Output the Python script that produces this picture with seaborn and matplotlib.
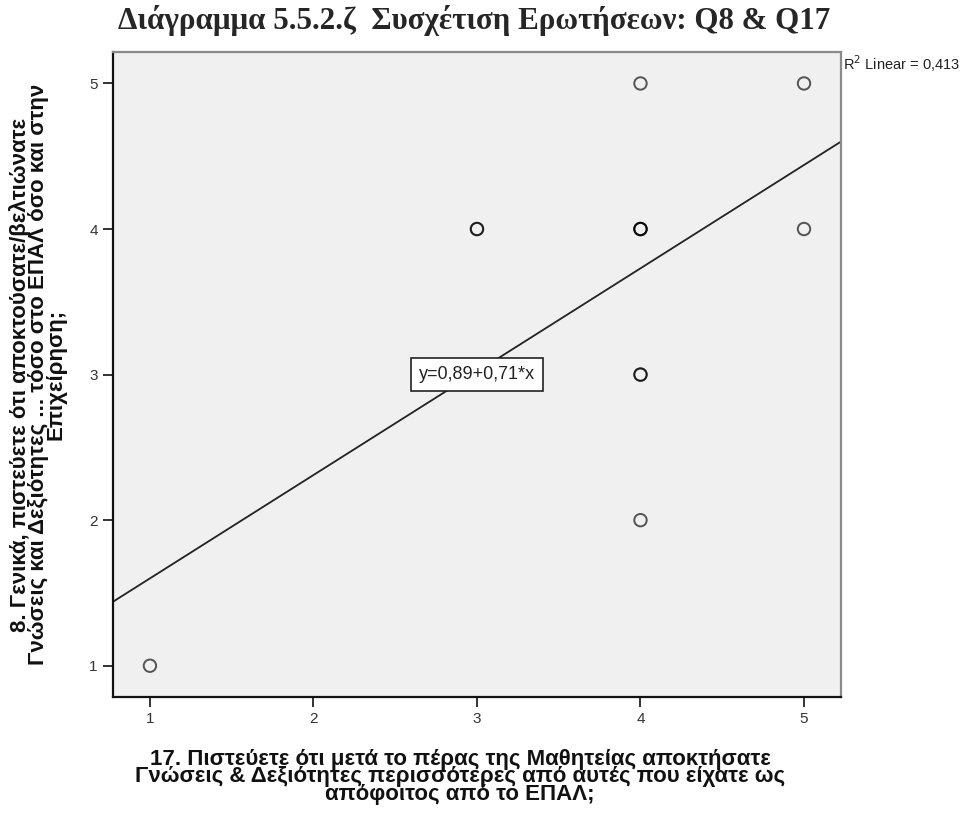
import numpy as np
import pandas as pd
import seaborn as sns
import matplotlib.pyplot as plt

# answers to Q17 (x) and Q8 (y), repeated where circles overlap
q17 = [1, 3, 3, 4, 4, 4, 4, 4, 4, 4, 5, 5]
q8 = [1, 4, 4, 5, 4, 4, 4, 3, 3, 2, 5, 4]
# fit reported by SPSS
intercept = 0.89
slope = 0.71
r2 = 0.413
ticks = [1, 2, 3, 4, 5]

title = "Διάγραμμα 5.5.2.ζ  Συσχέτιση Ερωτήσεων: Q8 & Q17"
xlabel = ("17. Πιστεύετε ότι μετά το πέρας της Μαθητείας αποκτήσατε\n"
          "Γνώσεις & Δεξιότητες περισσότερες από αυτές που είχατε ως\n"
          "απόφοιτος από το ΕΠΑΛ;")
ylabel = ("8. Γενικά, πιστεύετε ότι αποκτούσατε/βελτιώνατε\n"
          "Γνώσεις και Δεξιότητες ... τόσο στο ΕΠΑΛ όσο και στην\n"
          "Επιχείρηση;")

df = pd.DataFrame({"q17": q17, "q8": q8})

sns.set_style("ticks")
plt.rcParams["font.family"] = ["Liberation Sans", "DejaVu Sans"]

fig = plt.figure(figsize=(9.79, 8.14), dpi=100)
ax = fig.add_axes([0.1154, 0.1437, 0.7436, 0.7924])
ax.set_facecolor("#f0f0f0")

sns.scatterplot(data=df, x="q17", y="q8", ax=ax, s=80, marker="o",
                facecolor="none", edgecolor="#000000", linewidth=1.4,
                alpha=0.65, zorder=3)

ax.axline((0, intercept), slope=slope, color="#222222", lw=1.3, zorder=2)

ax.set_xlim(0.774, 5.226)
ax.set_ylim(0.785, 5.216)
ax.set_xticks(ticks)
ax.set_yticks(ticks)
ax.tick_params(length=7, width=1.3, color="#222222", labelsize=11,
               labelcolor="#333333", pad=4)

for side in ["left", "bottom"]:
    ax.spines[side].set_color("#111111")
    ax.spines[side].set_linewidth(1.6)
for side in ["top", "right"]:
    ax.spines[side].set_visible(True)
    ax.spines[side].set_color("#8a8a8a")
    ax.spines[side].set_linewidth(1.6)

ax.set_xlabel(xlabel, fontsize=16, fontweight="bold", linespacing=0.8,
              labelpad=16, color="#111111")
ax.xaxis.label.set_x(0.477)
ax.set_ylabel(ylabel, fontsize=16, fontweight="bold", linespacing=0.8,
              labelpad=16, color="#111111")

ax.text(3, 3, "y=0,89+0,71*x", ha="center", va="center", fontsize=13,
        color="#222222", zorder=4,
        bbox=dict(boxstyle="square,pad=0.45", fc="white", ec="#222222", lw=1.2))

fig.text(843 / 979, 1 - 64 / 814, "R$^2$ Linear = 0,413", fontsize=10.5,
         color="#222222", ha="left", va="center")

fig.text(474 / 979, 1 - 21 / 814, title, fontsize=22.3, fontweight="bold",
         family=["Liberation Serif", "DejaVu Serif"], ha="center", va="center")

fig.savefig("out.png", dpi=100, facecolor="white")
